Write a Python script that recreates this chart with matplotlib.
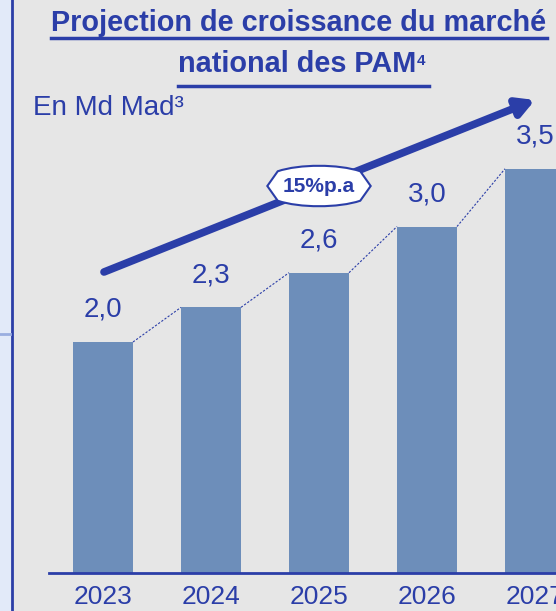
import matplotlib.pyplot as plt
from matplotlib.lines import Line2D
from matplotlib.patches import Rectangle
from matplotlib.path import Path

plt.rcParams['font.family'] = ['Liberation Sans', 'DejaVu Sans']

years = ["2023", "2024", "2025", "2026", "2027"]
values = [2.0, 2.3, 2.6, 3.0, 3.5]
value_labels = ["2,0", "2,3", "2,6", "3,0", "3,5"]
growth_label = "15%p.a"

W, H = 556, 611
bg = "#E6E6E6"
bar_color = "#6D8EBA"
blue = "#2B3EA8"

fig = plt.figure(figsize=(W / 100, H / 100), dpi=100, facecolor=bg)


def px(x, y):
    # pixel from top-left -> figure fraction
    return x / W, 1 - y / H


def pointy_box(x0, y0, width, height, mutation_size):
    # label box with pointed ends and bulging top/bottom
    pad = mutation_size * 0.25
    x0, y0 = x0 - pad, y0 - pad
    x1, y1 = x0 + width + 2 * pad, y0 + height + 2 * pad
    cy = (y0 + y1) / 2
    d = mutation_size * 0.5
    b = (y1 - y0) * 0.25
    verts = [(x0 - d, cy), (x0, y1),
             (x0 + width * 0.3, y1 + b), (x1 - width * 0.3, y1 + b), (x1, y1),
             (x1 + d, cy), (x1, y0),
             (x1 - width * 0.3, y0 - b), (x0 + width * 0.3, y0 - b), (x0, y0),
             (x0 - d, cy)]
    codes = [Path.MOVETO, Path.LINETO,
             Path.CURVE4, Path.CURVE4, Path.CURVE4,
             Path.LINETO, Path.LINETO,
             Path.CURVE4, Path.CURVE4, Path.CURVE4,
             Path.CLOSEPOLY]
    return Path(verts, codes)


# left strip
fig.patches.append(Rectangle((0, 0), 11 / W, 1, transform=fig.transFigure,
                             facecolor="#E2EAF9", edgecolor="none", zorder=0))
fig.add_artist(Line2D([12 / W, 12 / W], [0, 1], color=blue, lw=2))
fig.add_artist(Line2D([0, 10 / W], [1 - 334 / H] * 2, color="#9AAEE0", lw=2))

# axes: baseline at y=573px, bar 0 centre at x=103px, 108 px per bar, 115.5 px per unit
x0, base, step, unit = 49, 573, 108, 115.5
top = 90
ax = fig.add_axes([x0 / W, (H - base) / H, (W - x0) / W, (base - top) / H])
ax.set_facecolor("none")
ax.set_xlim(-(103 - x0) / step, (W - 103) / step)
ax.set_ylim(0, (base - top) / unit)
for s in ax.spines.values():
    s.set_visible(False)
ax.set_xticks([])
ax.set_yticks([])

bw = 60 / step
xs = list(range(len(years)))
ax.bar(xs, values, width=bw, color=bar_color, zorder=2, clip_on=False)
ax.axhline(0, color=blue, lw=2, zorder=3, clip_on=False)

for i in xs:
    ax.text(i, values[i] + 0.28, value_labels[i], ha="center", va="center",
            fontsize=20, color=blue, clip_on=False)
    ax.text(i, -0.21, years[i], ha="center", va="center",
            fontsize=19, color=blue, clip_on=False)
    if i < len(xs) - 1:
        ax.plot([i + bw / 2, i + 1 - bw / 2], [values[i], values[i + 1]],
                ls=(0, (2, 1.5)), lw=0.8, color=blue, zorder=1, clip_on=False)

# growth arrow
ax.annotate("", xy=((535 - 103) / step, (base - 100) / unit),
            xytext=((104 - 103) / step, (base - 272) / unit),
            arrowprops=dict(arrowstyle="-|>,head_length=1.0,head_width=0.55",
                            color=blue, lw=5.5, shrinkA=0, shrinkB=0),
            annotation_clip=False)
ax.text((319 - 103) / step, (base - 186) / unit, growth_label, ha="center",
        va="center", fontsize=15, fontweight="bold", color=blue,
        bbox=dict(boxstyle=pointy_box, fc="white", ec=blue, lw=1.5),
        zorder=5)

# title
t1 = fig.text(*px(299, 23), "Projection de croissance du marché", ha="center",
              va="center", fontsize=20.8, fontweight="bold", color=blue)
t2 = fig.text(*px(297, 64), "national des PAM", ha="center", va="center",
              fontsize=20.8, fontweight="bold", color=blue)
fig.canvas.draw()
r = fig.canvas.get_renderer()
for t, uy in [(t1, 38), (t2, 86)]:
    bb = t.get_window_extent(r)
    x_end = bb.x1 + (13 if t is t2 else 0)
    fig.add_artist(Line2D([bb.x0 / W, x_end / W], [1 - uy / H] * 2, color=blue, lw=2.5))
bb2 = t2.get_window_extent(r)
fig.text(bb2.x1 / W + 1 / W, 1 - 61 / H, "4", ha="left", va="center",
         fontsize=11, fontweight="bold", color=blue)

fig.text(*px(33, 108), "En Md Mad³", ha="left", va="center", fontsize=20,
         color=blue)

fig.savefig("out.png", dpi=100, facecolor=bg)
